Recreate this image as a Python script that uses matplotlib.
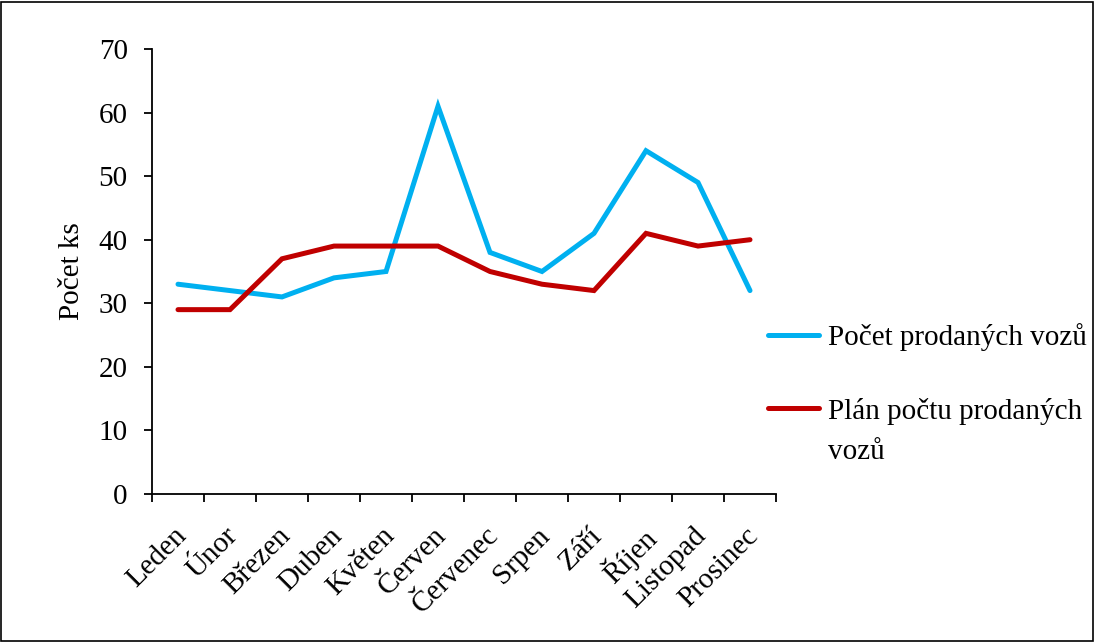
import matplotlib
matplotlib.use("Agg")
import matplotlib.pyplot as plt
import matplotlib.transforms as mtransforms
from matplotlib.patches import Rectangle

months = ["Leden", "Únor", "Březen", "Duben", "Květen", "Červen", "Červenec",
          "Srpen", "Září", "Říjen", "Listopad", "Prosinec"]
sold = [33, 32, 31, 34, 35, 61, 38, 35, 41, 54, 49, 32]
plan = [29, 29, 37, 39, 39, 39, 35, 33, 32, 41, 39, 40]
y_ticks = [0, 10, 20, 30, 40, 50, 60, 70]
sold_label = "Počet prodaných vozů"
plan_label = "Plán počtu prodaných"
plan_label_cont = "vozů"

plt.rcParams['font.family'] = ['Liberation Serif', 'DejaVu Serif']
FS = 21

fig = plt.figure(figsize=(10.95, 6.42), dpi=100)
ax = fig.add_axes([152/1095, 1-494/642, (776-152)/1095, (494-49)/642])

x = list(range(len(months)))
ax.plot(x, sold, color="#00B0F0", lw=3.6, solid_capstyle='round', solid_joinstyle='miter',
        label=sold_label)
ax.plot(x, plan, color="#C00000", lw=3.6, solid_capstyle='round', solid_joinstyle='miter',
        label=plan_label)

ax.set_xlim(-0.5, len(months) - 0.5)
ax.set_ylim(0, 70)
ax.set_yticks(y_ticks)
ax.set_xticks([i - 0.5 for i in range(len(months) + 1)], minor=False)
ax.set_xticklabels([])
ax.set_xticks(x, minor=True)
ax.set_xticklabels(months, minor=True, rotation=45, ha='right', va='top',
                   rotation_mode='anchor', fontsize=FS)
ax.tick_params(axis='x', which='minor', length=0, pad=20.5)
ax.tick_params(axis='x', which='major', length=6, width=1.3, direction='out')
ax.tick_params(axis='y', length=6, width=1.3, direction='out', labelsize=FS, pad=11.5)
offset = mtransforms.ScaledTranslation(-5/100, 0, fig.dpi_scale_trans)
for lbl in ax.get_xticklabels(minor=True):
    lbl.set_transform(lbl.get_transform() + offset)
for s in ['top', 'right']:
    ax.spines[s].set_visible(False)
for s in ['left', 'bottom']:
    ax.spines[s].set_linewidth(1.3)
ax.set_ylabel("Počet ks", fontsize=FS)
ax.yaxis.set_label_coords(-0.108, 0.5)

leg = ax.legend(loc='upper left', bbox_to_anchor=(768/1095, 1-323/642),
                bbox_transform=fig.transFigure, frameon=False, fontsize=FS,
                handlelength=1.75, handletextpad=0.3, labelspacing=1.6,
                borderpad=0, borderaxespad=0)
fig.canvas.draw()
tb = leg.get_texts()[1].get_window_extent()
x0 = fig.transFigure.inverted().transform((tb.x0, tb.y0))
fig.text(x0[0], x0[1] - 14/642, plan_label_cont, fontsize=FS, ha='left', va='top')

fig.add_artist(Rectangle((1/1095, 1/642), 1092/1095, 639/642, transform=fig.transFigure,
                         fill=False, edgecolor='black', lw=1.2))

fig.savefig("out.png", dpi=100)
